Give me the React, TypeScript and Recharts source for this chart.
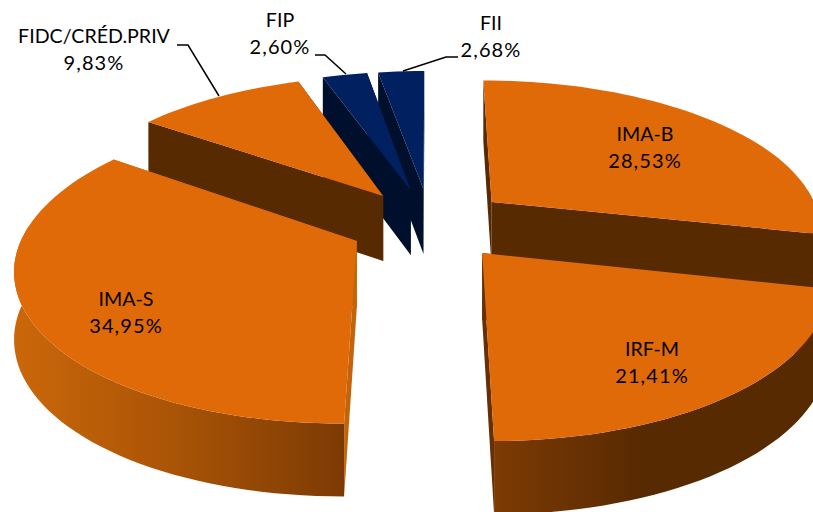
import { PieChart, Pie } from 'recharts';

// counter-clockwise draw order, so nearer slices paint over farther ones
const names = ['IMA-B', 'FII', 'FIP', 'FIDC/CRÉD.PRIV', 'IMA-S', 'IRF-M'];
const shares = [28.53, 2.68, 2.6, 9.83, 34.95, 21.41];

const data = names.map((name, i) => ({ name, value: shares[i] }));

const ORANGE = '#E16A08';
const BROWN = '#582A02';
const NAVY = '#012060';
const NIGHT = '#000F2C';

const sliceStyle: Record<string, any> = {
  'IMA-B': { top: ORANGE, cut: BROWN, wall: BROWN },
  'IRF-M': { top: ORANGE, cut: '#663004', wall: 'url(#wall-irf)' },
  'IMA-S': { top: ORANGE, cut: '#C4640A', wall: 'url(#wall-ima)' },
  'FIDC/CRÉD.PRIV': { top: ORANGE, cut: BROWN, wall: BROWN },
  FIP: { top: NAVY, cut: NIGHT, wall: NIGHT },
  FII: { top: NAVY, cut: NIGHT, wall: NIGHT },
};

// label centres and leader lines, in page pixels
const labelSpots: Record<string, any> = {
  'IMA-B': { x: 645, y: 141 },
  'IRF-M': { x: 652, y: 356 },
  'IMA-S': { x: 126, y: 306 },
  'FIDC/CRÉD.PRIV': { x: 94, y: 43, line: '177,45 188,45 219,96' },
  FIP: { x: 280, y: 27, line: '315,55 325,55 346,74' },
  FII: { x: 491, y: 30, line: '458,57 446,57 403,71' },
};

const EXPLODE = 0.245;
const TILT = 0.447;
const PERSPECTIVE = 0.16;
const DEPTH = 66;

const rad = (a: number) => (a * Math.PI) / 180;

const Slice3D = (props: any) => {
  const { cx, cy, outerRadius, startAngle, endAngle, name } = props;
  const style = sliceStyle[name];
  const mid = rad((startAngle + endAngle) / 2);
  const ox = EXPLODE * Math.cos(mid);
  const oy = -EXPLODE * Math.sin(mid);

  const project = (wx: number, wy: number, drop = 0) => {
    const X = ox + wx;
    const Y = oy + wy;
    const s = 1 / (1 - PERSPECTIVE * Y);
    return [cx + outerRadius * X * s, cy + outerRadius * TILT * Y * s + drop * Math.sqrt(s)];
  };
  const d = (pts: number[][]) =>
    'M' + pts.map((p) => p[0].toFixed(1) + ' ' + p[1].toFixed(1)).join('L') + 'Z';

  const steps = Math.max(2, Math.ceil(Math.abs(endAngle - startAngle) / 2));
  const rim: number[][] = [];
  for (let i = 0; i <= steps; i++) {
    const a = rad(startAngle + ((endAngle - startAngle) * i) / steps);
    rim.push([Math.cos(a), -Math.sin(a)]);
  }
  const first = rim[0];
  const last = rim[rim.length - 1];
  const cutWall = (p: number[]) =>
    d([project(0, 0), project(p[0], p[1]), project(p[0], p[1], DEPTH), project(0, 0, DEPTH)]);
  const front = rim.filter((p) => p[1] > -0.1);
  const top = [project(0, 0), ...rim.map((p) => project(p[0], p[1]))];

  return (
    <g>
      <defs>
        <linearGradient id="wall-ima" gradientUnits="userSpaceOnUse" x1="15" y1="0" x2="345" y2="0">
          <stop offset="0" stopColor="#CB670A" />
          <stop offset="0.5" stopColor="#A85306" />
          <stop offset="1" stopColor="#7C3A04" />
        </linearGradient>
        <linearGradient id="wall-irf" gradientUnits="userSpaceOnUse" x1="497" y1="0" x2="640" y2="0">
          <stop offset="0" stopColor="#7C3A04" />
          <stop offset="1" stopColor={BROWN} />
        </linearGradient>
      </defs>
      <path d={cutWall(first)} fill={style.cut} />
      <path d={cutWall(last)} fill={style.cut} />
      {front.length > 1 && (
        <path
          d={d([
            ...front.map((p) => project(p[0], p[1])),
            ...[...front].reverse().map((p) => project(p[0], p[1], DEPTH)),
          ])}
          fill={style.wall}
        />
      )}
      <path d={d(top)} fill={style.top} />
    </g>
  );
};

const SliceLabel = (props: any) => {
  const { name, value } = props;
  const spot = labelSpots[name];
  return (
    <g>
      {spot.line && <polyline points={spot.line} fill="none" stroke="#000" strokeWidth={1.5} />}
      <text x={spot.x} y={spot.y} textAnchor="middle" fontFamily="Lato, sans-serif" fontSize={19.6} fill="#000">
        <tspan x={spot.x} dy={0}>{name}</tspan>
        <tspan x={spot.x} dy={27} fontSize={20} letterSpacing={1.1}>{value.toFixed(2).replace('.', ',') + '%'}</tspan>
      </text>
    </g>
  );
};

const startAngle = 90 - shares[0] * 3.6;

export default function App() {
  return (
    <div style={{ position: 'absolute', left: 0, top: 0, width: 813, height: 512, background: '#fff' }}>
      <PieChart width={813} height={512} margin={{ top: 0, right: 0, bottom: 0, left: 0 }}>
        <Pie
          data={data}
          dataKey="value"
          nameKey="name"
          cx={430}
          cy={224}
          innerRadius={0}
          outerRadius={330}
          startAngle={startAngle}
          endAngle={startAngle + 360}
          stroke="none"
          shape={Slice3D}
          label={SliceLabel}
          labelLine={false}
          isAnimationActive={false}
        />
      </PieChart>
    </div>
  );
}
